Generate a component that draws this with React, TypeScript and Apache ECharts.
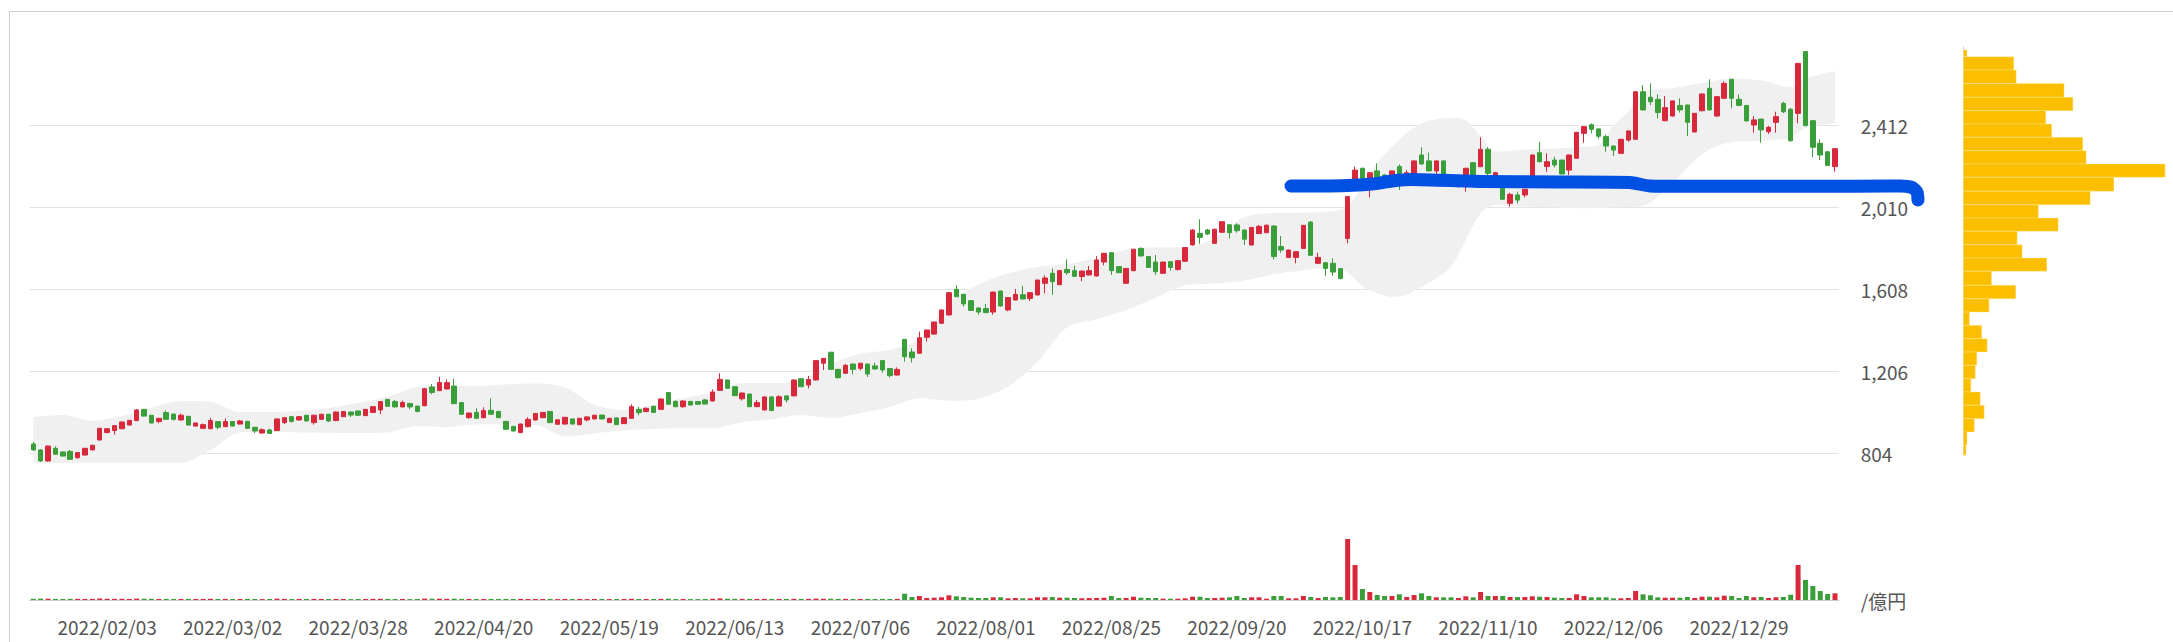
import React, { useEffect, useRef } from 'react';
import * as echarts from 'echarts';

// ---- categories: trading days (one list of day numbers per month) ----
const monthDays: [string, string][] = [
  ['2022/01', '20,21,24,25,26,27,28,31'],
  ['2022/02', '01,02,03,04,07,08,09,10,14,15,16,17,18,21,22,24,25,28'],
  ['2022/03', '01,02,03,04,07,08,09,10,11,14,15,16,17,18,22,23,24,25,28,29,30,31'],
  ['2022/04', '01,04,05,06,07,08,11,12,13,14,15,18,19,20,21,22,25,26,27,28'],
  ['2022/05', '02,06,09,10,11,12,13,16,17,18,19,20,23,24,25,26,27,30,31'],
  ['2022/06', '01,02,03,06,07,08,09,10,13,14,15,16,17,20,21,22,23,24,27,28,29,30'],
  ['2022/07', '01,04,05,06,07,08,11,12,13,14,15,19,20,21,22,25,26,27,28,29'],
  ['2022/08', '01,02,03,04,05,08,09,10,12,15,16,17,18,19,22,23,24,25,26,29,30,31'],
  ['2022/09', '01,02,05,06,07,08,09,12,13,14,15,16,20,21,22,26,27,28,29,30'],
  ['2022/10', '03,04,05,06,07,11,12,13,14,17,18,19,20,21,24,25,26,27,28,31'],
  ['2022/11', '01,02,04,07,08,09,10,11,14,15,16,17,18,21,22,24,25,28,29,30'],
  ['2022/12', '01,02,05,06,07,08,09,12,13,14,15,16,19,20,21,22,23,26,27,28,29,30'],
  ['2023/01', '04,05,06,10,11,12,13,16,17,18,19,20'],
];
const dates: string[] = monthDays.flatMap(([m, d]) => d.split(',').map((x) => `${m}/${x}`));

// ---- candles: [open, close, low, high] ----
const candles: number[][] = [
  [848, 819, 815, 858], [819, 765, 760, 822], [765, 838, 762, 840], [827, 798, 795, 837], [809, 789, 787, 811],
  [812, 773, 770, 819], [781, 806, 776, 807], [794, 827, 792, 829], [819, 842, 817, 843], [868, 925, 865, 927],
  [904, 923, 901, 925], [914, 938, 894, 940], [923, 956, 921, 958], [941, 964, 939, 966], [963, 1015, 960, 1020],
  [1018, 985, 983, 1020], [989, 951, 949, 990], [958, 974, 949, 976], [1002, 969, 967, 1013], [995, 969, 963, 997],
  [966, 989, 963, 998], [984, 941, 939, 986], [936, 951, 934, 953], [925, 943, 922, 949], [923, 963, 921, 976],
  [958, 930, 920, 960], [933, 958, 931, 974], [958, 936, 934, 960], [946, 961, 944, 966], [959, 925, 922, 962],
  [930, 912, 902, 932], [902, 918, 900, 925], [917, 900, 898, 923], [914, 971, 911, 973], [953, 977, 946, 979],
  [982, 959, 953, 984], [966, 982, 963, 985], [989, 961, 959, 991], [953, 989, 943, 991], [969, 994, 967, 996],
  [994, 961, 956, 996], [963, 1005, 960, 1007], [982, 1007, 980, 1009], [1005, 990, 981, 1007], [1010, 989, 987, 1012],
  [987, 1018, 985, 1020], [1003, 1031, 1001, 1033], [1015, 1056, 995, 1058], [1067, 1033, 1031, 1069], [1056, 1030, 1027, 1064],
  [1030, 1052, 1027, 1061], [1047, 1030, 1018, 1049], [1034, 1008, 1003, 1036], [1036, 1119, 1033, 1122], [1128, 1101, 1092, 1142],
  [1110, 1150, 1107, 1178], [1118, 1149, 1115, 1165], [1132, 1046, 1043, 1168], [1051, 994, 991, 1053], [977, 1000, 972, 1002],
  [1003, 974, 971, 1023], [977, 1012, 975, 1028], [1013, 994, 991, 1072], [1008, 977, 975, 1010], [959, 920, 918, 961],
  [935, 912, 909, 937], [904, 946, 901, 948], [933, 969, 930, 979], [966, 998, 963, 1000], [977, 1003, 975, 1005],
  [1008, 953, 950, 1010], [945, 967, 942, 969], [946, 979, 943, 981], [971, 946, 944, 973], [943, 974, 940, 976],
  [966, 981, 959, 983], [971, 989, 969, 991], [990, 971, 969, 992], [953, 974, 951, 976], [976, 943, 941, 978],
  [948, 977, 946, 979], [974, 1031, 972, 1043], [1018, 1002, 989, 1031], [1007, 1023, 1005, 1028], [1033, 1003, 1001, 1035],
  [1018, 1069, 1016, 1071], [1100, 1043, 1041, 1102], [1057, 1031, 1029, 1062], [1031, 1059, 1026, 1061], [1057, 1039, 1037, 1059],
  [1056, 1043, 1041, 1058], [1064, 1044, 1042, 1069], [1059, 1103, 1057, 1116], [1111, 1165, 1109, 1195], [1162, 1121, 1119, 1164],
  [1129, 1085, 1083, 1131], [1070, 1098, 1061, 1100], [1093, 1031, 1029, 1095], [1031, 1051, 1029, 1064], [1015, 1079, 1013, 1081],
  [1079, 1012, 1009, 1081], [1034, 1080, 1032, 1087], [1084, 1064, 1052, 1086], [1084, 1162, 1082, 1164], [1168, 1129, 1127, 1170],
  [1137, 1164, 1121, 1182], [1162, 1257, 1160, 1259], [1244, 1268, 1211, 1270], [1298, 1214, 1212, 1300], [1214, 1173, 1170, 1216],
  [1195, 1234, 1192, 1240], [1240, 1214, 1190, 1242], [1219, 1244, 1209, 1246], [1240, 1191, 1177, 1242], [1231, 1216, 1213, 1247],
  [1257, 1211, 1198, 1259], [1218, 1183, 1175, 1220], [1186, 1214, 1184, 1224], [1361, 1276, 1252, 1363], [1299, 1271, 1247, 1317],
  [1293, 1369, 1290, 1399], [1371, 1407, 1350, 1409], [1387, 1446, 1385, 1448], [1440, 1505, 1437, 1507], [1481, 1590, 1478, 1592],
  [1606, 1570, 1568, 1626], [1582, 1535, 1521, 1584], [1551, 1503, 1501, 1553], [1515, 1495, 1482, 1517], [1512, 1492, 1490, 1535],
  [1495, 1593, 1482, 1595], [1598, 1525, 1522, 1600], [1505, 1566, 1499, 1568], [1554, 1582, 1552, 1608], [1580, 1559, 1557, 1623],
  [1562, 1590, 1549, 1592], [1579, 1652, 1576, 1654], [1636, 1662, 1587, 1675], [1685, 1644, 1579, 1709], [1629, 1698, 1627, 1700],
  [1704, 1688, 1677, 1753], [1698, 1670, 1668, 1722], [1669, 1696, 1646, 1698], [1677, 1698, 1674, 1721], [1672, 1750, 1669, 1770],
  [1740, 1783, 1724, 1785], [1786, 1698, 1677, 1788], [1718, 1688, 1686, 1720], [1636, 1709, 1633, 1711], [1698, 1803, 1695, 1805],
  [1807, 1770, 1767, 1812], [1767, 1714, 1712, 1769], [1740, 1693, 1677, 1775], [1685, 1740, 1682, 1742], [1742, 1714, 1698, 1744],
  [1704, 1747, 1698, 1749], [1744, 1811, 1741, 1813], [1824, 1897, 1821, 1902], [1881, 1861, 1829, 1950], [1897, 1878, 1872, 1903],
  [1832, 1901, 1829, 1903], [1886, 1938, 1883, 1940], [1923, 1884, 1856, 1925], [1922, 1894, 1884, 1930], [1897, 1852, 1824, 1899],
  [1824, 1910, 1821, 1912], [1880, 1915, 1878, 1922], [1884, 1921, 1882, 1923], [1917, 1767, 1753, 1919], [1816, 1799, 1786, 1868],
  [1763, 1799, 1760, 1801], [1763, 1791, 1734, 1793], [1807, 1920, 1805, 1922], [1936, 1773, 1771, 1941], [1734, 1763, 1731, 1786],
  [1737, 1709, 1672, 1739], [1734, 1691, 1672, 1758], [1708, 1659, 1656, 1710], [1856, 2061, 1832, 2063], [2130, 2191, 2110, 2208],
  [2200, 2150, 2135, 2202], [2120, 2178, 2057, 2180], [2187, 2151, 2140, 2224], [2167, 2160, 2150, 2170], [2159, 2187, 2150, 2189],
  [2208, 2167, 2093, 2219], [2164, 2178, 2150, 2191], [2159, 2236, 2150, 2238], [2265, 2221, 2218, 2303], [2236, 2187, 2184, 2276],
  [2187, 2236, 2167, 2238], [2236, 2150, 2140, 2238], [2140, 2125, 2110, 2150], [2120, 2135, 2105, 2145], [2134, 2200, 2085, 2202],
  [2227, 2140, 2120, 2229], [2208, 2293, 2205, 2352], [2293, 2175, 2160, 2303], [2160, 2178, 2150, 2182], [2102, 2048, 2045, 2104],
  [2028, 2072, 2012, 2080], [2069, 2044, 2028, 2085], [2069, 2097, 2057, 2099], [2159, 2265, 2156, 2267], [2276, 2232, 2229, 2330],
  [2208, 2232, 2183, 2273], [2240, 2216, 2204, 2257], [2240, 2172, 2169, 2242], [2191, 2265, 2167, 2267], [2249, 2376, 2246, 2378],
  [2371, 2404, 2325, 2406], [2413, 2391, 2371, 2420], [2393, 2357, 2345, 2395], [2355, 2309, 2281, 2365], [2309, 2289, 2260, 2311],
  [2273, 2342, 2270, 2344], [2338, 2383, 2330, 2385], [2342, 2575, 2339, 2577], [2575, 2486, 2483, 2608], [2548, 2526, 2510, 2616],
  [2538, 2473, 2445, 2562], [2433, 2497, 2430, 2554], [2456, 2530, 2453, 2532], [2508, 2486, 2473, 2543], [2510, 2425, 2358, 2512],
  [2378, 2469, 2375, 2471], [2482, 2564, 2479, 2566], [2592, 2486, 2483, 2636], [2456, 2551, 2453, 2553], [2543, 2616, 2540, 2625],
  [2636, 2543, 2494, 2638], [2538, 2508, 2505, 2562], [2508, 2432, 2429, 2510], [2412, 2437, 2374, 2456], [2441, 2388, 2325, 2443],
  [2379, 2401, 2368, 2408], [2425, 2453, 2374, 2477], [2518, 2477, 2470, 2526], [2489, 2335, 2330, 2495], [2469, 2714, 2420, 2716],
  [2772, 2409, 2406, 2774], [2433, 2303, 2254, 2435], [2322, 2265, 2240, 2342], [2281, 2214, 2211, 2283], [2208, 2296, 2183, 2298],
];

// ---- turnover (億円) ----
const volumes: number[] = [
  1.2, 1.4, 1.3, 1.1, 1.0, 1.2, 1.1, 1.0, 1.1, 1.5, 1.2, 1.1, 1.2, 1.0, 1.4, 1.3, 1.2, 1.0, 1.1, 1.0,
  1.0, 1.1, 1.0, 1.0, 1.2, 1.0, 1.1, 1.0, 1.0, 1.1, 1.0, 0.9, 1.0, 1.3, 1.1, 1.0, 1.0, 1.0, 1.1, 1.0,
  1.0, 1.1, 1.0, 0.9, 1.0, 1.0, 1.1, 1.2, 1.1, 1.0, 1.0, 0.9, 1.0, 1.4, 1.3, 1.3, 1.2, 1.3, 1.1, 1.0,
  1.0, 1.0, 1.1, 1.0, 1.1, 1.0, 1.1, 1.0, 1.0, 1.0, 1.1, 0.9, 1.0, 1.0, 1.0, 0.9, 1.0, 1.0, 0.9, 1.0,
  1.0, 1.2, 1.0, 1.0, 1.0, 1.1, 1.3, 1.0, 1.0, 0.9, 0.9, 1.0, 1.2, 1.6, 1.3, 1.2, 1.1, 1.1, 1.0, 1.1,
  1.1, 1.0, 1.0, 1.2, 1.1, 1.1, 1.4, 1.2, 1.3, 1.1, 1.1, 1.0, 1.0, 1.1, 1.0, 1.1, 1.0, 1.1,
  6.3, 3, 4, 2, 2.3, 2.7, 4.7, 3.7, 3, 2.3, 2, 2, 2.7, 2.7, 1.7, 2, 1.7, 1.7, 2.7, 2.7, 3, 2.3, 2.3, 2, 1.7, 2, 2,
  2.3, 4, 2, 2, 3.3, 2.3, 2, 2, 1.3, 1.3, 1.3, 1.7, 3.3, 3.3, 2, 2, 2.3, 2.7, 4, 2, 2.7, 2.7, 1.3, 4, 4, 1.7, 1.7, 4, 3, 2, 3, 2.7, 3,
  61, 35, 11, 8, 5, 4, 4, 5.7, 3, 5, 6.7, 4, 2.7, 2.7, 2.7, 2, 3.7, 2.7, 8, 4, 4, 4, 3, 3, 3, 3.7, 3.3, 3, 2.3, 2, 2, 5.7, 4,
  2.7, 2.7, 2.7, 1.7, 1.7, 2, 9, 5.7, 4.7, 2.7, 2.3, 2.3, 2.3, 3, 2, 3.3, 3.3, 2.7, 4.3, 4, 2, 4, 2.7, 3, 2, 2.7, 3, 5.3,
  35, 20, 14, 9, 6, 6.7,
];

// ---- Bollinger-style band: category index, upper, lower ----
const bandIdx: number[] = [0, 4, 8, 12, 16, 20, 24, 28, 32, 36, 40, 44, 48, 52, 56, 60, 64, 68, 72, 76, 80, 84, 88, 92, 96, 100,
  104, 108, 112, 116, 120, 124, 128, 132, 136, 140, 144, 148, 152, 156, 160, 164, 168, 172, 176, 178, 180, 182, 184, 186, 188,
  190, 192, 194, 196, 198, 202, 206, 210, 212, 214, 216, 218, 222, 226, 230, 234, 238, 240, 244];
const bandUpper: number[] = [980, 990, 962, 985, 1028, 1059, 1055, 1005, 1005, 1010, 1025, 1050, 1080, 1128, 1133, 1133, 1140, 1145,
  1125, 1040, 1015, 1040, 1072, 1100, 1147, 1147, 1160, 1240, 1290, 1310, 1360, 1539, 1630, 1685, 1716, 1730, 1760, 1800, 1812,
  1812, 1860, 1960, 1980, 1982, 1990, 2011, 2120, 2226, 2306, 2372, 2421, 2440, 2446, 2435, 2356, 2281, 2291, 2297, 2305, 2314,
  2412, 2476, 2574, 2593, 2618, 2640, 2630, 2598, 2640, 2677];
const bandLower: number[] = [756, 756, 756, 756, 756, 756, 819, 905, 907, 905, 903, 902, 905, 936, 930, 945, 943, 941, 885, 900,
  915, 922, 925, 925, 955, 968, 990, 975, 1000, 1030, 1072, 1060, 1070, 1130, 1250, 1420, 1460, 1505, 1565, 1626, 1635, 1650,
  1680, 1700, 1715, 1690, 1620, 1587, 1570, 1580, 1619, 1660, 1717, 1850, 1979, 2018, 2011, 2008, 2004, 2005, 2008, 2010, 2015,
  2126, 2270, 2329, 2335, 2350, 2397, 2422];

// ---- price-volume profile: bin edges (price, top to bottom) and bin volumes ----
const profileEdges: number[] = [2780, 2747, 2682, 2616, 2548, 2482, 2417, 2352, 2286, 2221, 2156, 2087, 2021, 1956, 1891, 1825,
  1760, 1695, 1626, 1560, 1495, 1430, 1364, 1299, 1234, 1168, 1103, 1038, 972, 907, 842, 793];
const profileVolumes: number[] = [3.5, 50.3, 52.7, 100.6, 109.4, 82.3, 88.2, 119.3, 122.7, 201.6, 150.4, 126.7, 74.9, 94.7, 53.7,
  58.7, 83.3, 28.1, 52.3, 25.6, 5.9, 18.2, 23.7, 13.3, 11.8, 7.4, 16.8, 20.7, 10.8, 3.5, 2.5];

// ---- price axis ticks ----
const priceTicks = { min: 402, max: 2814, step: 402, firstLabel: 804, lastLabel: 2412 };

const RED = '#d7283c';
const GREEN = '#3a9f3a';
const YELLOW = '#fbbf00';
const FONT = '"Noto Sans CJK JP", "Noto Sans", sans-serif';
const LABEL = '#555555';

export default function App() {
  const ref = useRef<HTMLDivElement>(null);
  useEffect(() => {
    if (!ref.current) return;
    const chart = echarts.init(ref.current, undefined, { renderer: 'svg' });
    const labelEvery = (i: number) => i % 17 === 10;
    const volMax = Math.max(...volumes);
    const profMax = Math.max(...profileVolumes);
    const lowerPts = bandIdx.map((x, k) => [x, bandLower[k]]);
    const widthPts = bandIdx.map((x, k) => [x, bandUpper[k] - bandLower[k]]);
    const bluePts = [
      [1291, 186], [1330, 186], [1372, 184], [1392, 181], [1412, 179.5], [1480, 181.5], [1560, 182], [1630, 182.5],
      [1650, 186], [1720, 186.3], [1820, 186.3], [1900, 186], [1912, 187.5], [1917, 192], [1918, 200],
    ];
    const option: any = {
      animation: false,
      backgroundColor: 'transparent',
      textStyle: { fontFamily: FONT },
      grid: [
        { left: 29.6, width: 1809.1, top: 43, height: 492 },
        { left: 29.6, width: 1809.1, top: 539, height: 61 },
        { left: 1963.5, width: profMax, top: 47, height: 408 },
      ],
      xAxis: [
        { type: 'category', gridIndex: 0, data: dates, show: false, boundaryGap: true },
        {
          type: 'category', gridIndex: 1, data: dates, boundaryGap: true,
          axisLine: { lineStyle: { color: '#cccccc', width: 1 } },
          axisTick: { interval: labelEvery, alignWithLabel: true, length: 6, lineStyle: { color: '#cccccc' } },
          axisLabel: { interval: labelEvery, color: LABEL, fontSize: 19, fontFamily: FONT, margin: 17 },
          splitLine: { show: false },
        },
        { type: 'value', gridIndex: 2, min: 0, max: profMax, show: false },
      ],
      yAxis: [
        {
          type: 'value', gridIndex: 0, position: 'right',
          min: priceTicks.min, max: priceTicks.max, interval: priceTicks.step,
          axisLine: { show: false }, axisTick: { show: false },
          axisLabel: {
            margin: 22, color: LABEL, fontSize: 19, fontFamily: FONT,
            formatter: (v: number) => (v >= priceTicks.firstLabel && v <= priceTicks.lastLabel ? v.toLocaleString('en-US') : ''),
          },
          splitLine: { show: true, showMinLine: false, showMaxLine: false, lineStyle: { color: '#e3e3e3', width: 1 } },
        },
        {
          type: 'value', gridIndex: 1, position: 'right', min: 0, max: volMax, interval: volMax,
          axisLine: { show: false }, axisTick: { show: false }, splitLine: { show: false },
          axisLabel: { margin: 22, color: LABEL, fontSize: 19, fontFamily: FONT, formatter: (v: number) => (v === 0 ? '/億円' : '') },
        },
        {
          type: 'value', gridIndex: 2, min: 794.2, max: 2794.4,
          axisLine: { show: true, onZero: false, lineStyle: { color: '#cccccc' } },
          axisTick: { show: false }, axisLabel: { show: false }, splitLine: { show: false },
        },
      ],
      series: [
        {
          type: 'line', xAxisIndex: 0, yAxisIndex: 0, data: lowerPts, stack: 'band', symbol: 'none', smooth: 0.3,
          lineStyle: { opacity: 0 }, silent: true, z: 1,
        },
        {
          type: 'line', xAxisIndex: 0, yAxisIndex: 0, data: widthPts, stack: 'band', symbol: 'none', smooth: 0.3,
          lineStyle: { opacity: 0 }, areaStyle: { color: '#f0f0f0', opacity: 1 }, silent: true, z: 1,
        },
        {
          type: 'candlestick', xAxisIndex: 0, yAxisIndex: 0, data: candles, barWidth: 5, z: 5,
          itemStyle: { color: RED, color0: GREEN, borderColor: RED, borderColor0: GREEN, borderWidth: 1 },
        },
        {
          type: 'bar', xAxisIndex: 1, yAxisIndex: 1, barWidth: 5,
          data: volumes.map((v, i) => ({ value: v, itemStyle: { color: candles[i][1] >= candles[i][0] ? RED : GREEN } })),
        },
        {
          type: 'custom', xAxisIndex: 2, yAxisIndex: 2,
          data: profileVolumes.map((v, k) => [v, profileEdges[k + 1], profileEdges[k]]),
          encode: { x: 0, y: [1, 2] },
          renderItem: (params: any, api: any) => {
            const v = api.value(0);
            const lo = api.value(1);
            const hi = api.value(2);
            const p0 = api.coord([0, hi]);
            const p1 = api.coord([v, lo]);
            return {
              type: 'rect',
              shape: { x: p0[0], y: p0[1], width: p1[0] - p0[0], height: p1[1] - p0[1] },
              style: { fill: YELLOW, stroke: 'rgba(255,236,170,0.6)', lineWidth: 0.6 },
            };
          },
        },
      ],
      graphic: [
        {
          type: 'polyline', z: 100, silent: true,
          shape: { points: bluePts, smooth: 0.2 },
          style: { stroke: '#0050e4', lineWidth: 13, fill: null, lineCap: 'round', lineJoin: 'round' },
        },
      ],
    };
    chart.setOption(option);
    return () => chart.dispose();
  }, []);

  return (
    <div style={{ position: 'fixed', left: 0, top: 0, width: 2173, height: 642, overflow: 'hidden', background: '#fff' }}>
      <div style={{ position: 'absolute', left: 9, top: 11, width: 2300, height: 800, border: '1px solid #cfcfcf' }} />
      <div ref={ref} style={{ position: 'absolute', left: 0, top: 0, width: 2173, height: 642 }} />
    </div>
  );
}
